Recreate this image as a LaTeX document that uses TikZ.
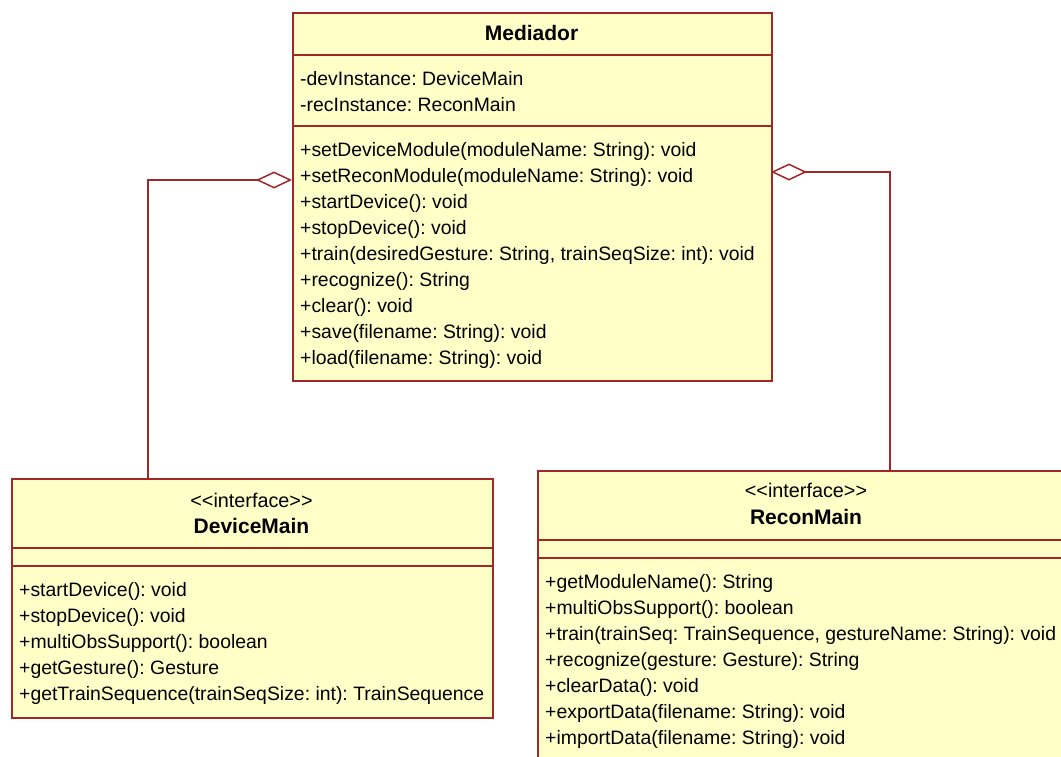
\documentclass[tikz,border=0pt]{standalone}
\usepackage{fontspec}
\setmainfont{Liberation Sans}
\usetikzlibrary{arrows.meta}
\frenchspacing
\definecolor{umlline}{RGB}{160,40,40}
\definecolor{umlfill}{RGB}{255,255,200}
\tikzset{
  classbox/.style={draw=umlline, fill=umlfill, line width=1.6pt, rectangle, anchor=north west, inner sep=0pt},
  divider/.style={draw=umlline, line width=1.6pt},
  member/.style={anchor=base west, inner sep=0pt, font=\fontsize{19.4}{23}\selectfont},
  classname/.style={anchor=base, inner sep=0pt, font=\bfseries\fontsize{21}{24}\selectfont},
  stereo/.style={anchor=base, inner sep=0pt, font=\fontsize{19.8}{23}\selectfont},
  aggr/.style={draw=umlline, line width=1.5pt, -{Diamond[open, length=36pt, width=17pt]}},
}
\begin{document}
\begin{tikzpicture}[x=1pt, y=-1pt]
\useasboundingbox (0,0) rectangle (1061,756);
\clip (0,0) rectangle (1061,756);

% Mediador class
\node[classbox, minimum width=479pt, minimum height=368pt] (med) at (292,12) {};
\draw[divider] (292,55) -- (771,55);
\draw[divider] (292,126) -- (771,126);
\node[classname] (medname) at (531.5,40) {Mediador};
\node[member] (m1) at (300,85) {-devInstance: DeviceMain};
\node[member] (m2) at (300,111) {-recInstance: ReconMain};
\node[member] (m3) at (300,156) {+setDeviceModule(moduleName: String): void};
\node[member] (m4) at (300,182) {+setReconModule(moduleName: String): void};
\node[member] (m5) at (300,208) {+startDevice(): void};
\node[member] (m6) at (300,234) {+stopDevice(): void};
\node[member] (m7) at (300,260) {+train(desiredGesture: String, trainSeqSize: int): void};
\node[member] (m8) at (300,286) {+recognize(): String};
\node[member] (m9) at (300,312) {+clear(): void};
\node[member] (m10) at (300,338) {+save(filename: String): void};
\node[member] (m11) at (300,364) {+load(filename: String): void};

% DeviceMain interface
\node[classbox, minimum width=481pt, minimum height=239pt] (dev) at (11,478) {};
\draw[divider] (11,548) -- (492,548);
\draw[divider] (11,566) -- (492,566);
\node[stereo] (devst) at (251.5,507) {<{}<interface>{}>};
\node[classname] (devname) at (251.5,533) {DeviceMain};
\node[member] (d1) at (19,596) {+startDevice(): void};
\node[member] (d2) at (19,622) {+stopDevice(): void};
\node[member] (d3) at (19,648) {+multiObsSupport(): boolean};
\node[member] (d4) at (19,674) {+getGesture(): Gesture};
\node[member] (d5) at (19,700) {+getTrainSequence(trainSeqSize: int): TrainSequence};

% ReconMain interface
\node[classbox, minimum width=560pt, minimum height=320pt] (rec) at (537,470) {};
\draw[divider] (537,540) -- (1097,540);
\draw[divider] (537,558) -- (1097,558);
\node[stereo] (recst) at (806,497) {<{}<interface>{}>};
\node[classname] (recname) at (806,524) {ReconMain};
\node[member] (r1) at (545,588) {+getModuleName(): String};
\node[member] (r2) at (545,614) {+multiObsSupport(): boolean};
\node[member] (r3) at (545,640) {+train(trainSeq: TrainSequence, gestureName: String): void};
\node[member] (r4) at (545,666) {+recognize(gesture: Gesture): String};
\node[member] (r5) at (545,692) {+clearData(): void};
\node[member] (r6) at (545,718) {+exportData(filename: String): void};
\node[member] (r7) at (545,744) {+importData(filename: String): void};

% aggregation connectors
\coordinate (devtop) at (148,478);
\coordinate (medleft) at (292,180);
\coordinate (rectop) at (890,470);
\coordinate (medright) at (771,172);
\draw[aggr] (devtop) |- (medleft);
\draw[aggr] (rectop) |- (medright);
\end{tikzpicture}
\end{document}
